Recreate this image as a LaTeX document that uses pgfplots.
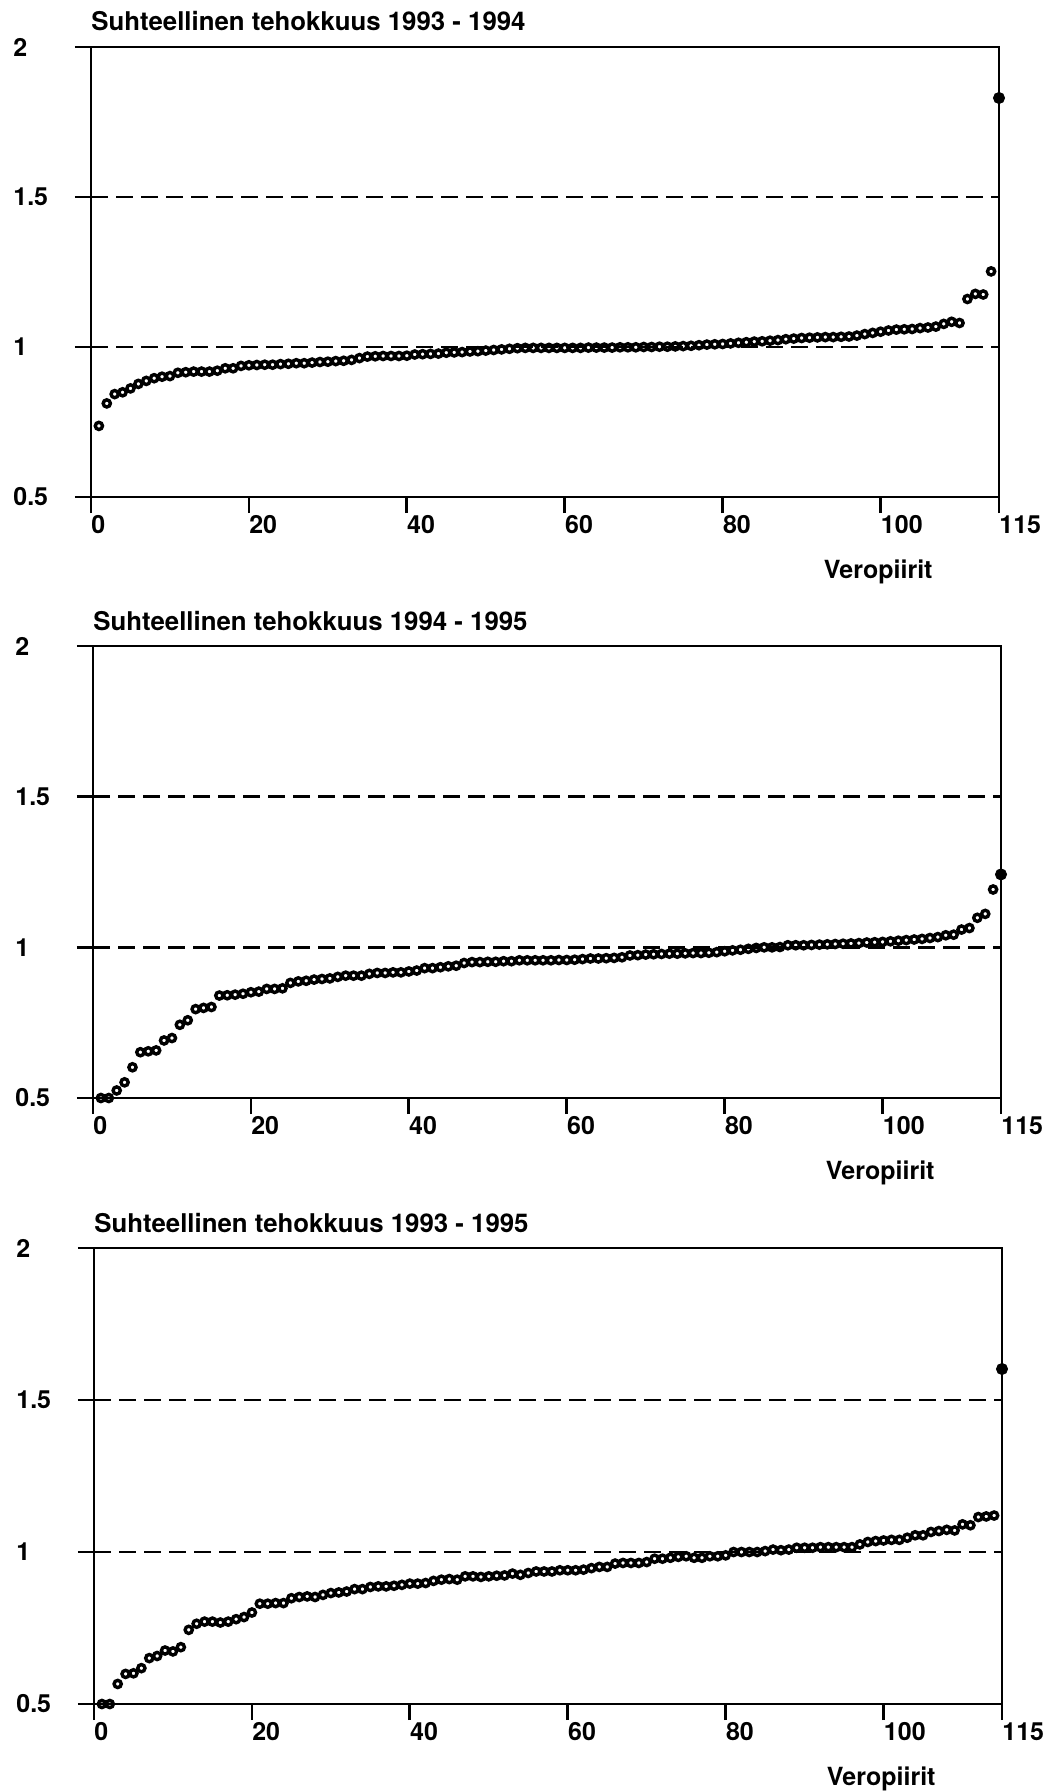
\documentclass[border=0pt]{standalone}
\usepackage{fontspec}
\setmainfont{TeX Gyre Heros}
\usepackage{pgfplots}
\usepackage{pgfplotstable}
\pgfplotsset{compat=1.18}

% Suhteellinen tehokkuus 1993-1994
\pgfplotstableread{
x y
1 0.737
2 0.812
3 0.843
4 0.849
5 0.862
6 0.877
7 0.887
8 0.896
9 0.901
10 0.903
11 0.914
12 0.916
13 0.918
14 0.918
15 0.918
16 0.921
17 0.929
18 0.929
19 0.937
20 0.939
21 0.940
22 0.941
23 0.941
24 0.943
25 0.944
26 0.946
27 0.946
28 0.948
29 0.950
30 0.951
31 0.953
32 0.954
33 0.957
34 0.963
35 0.968
36 0.969
37 0.970
38 0.970
39 0.970
40 0.971
41 0.975
42 0.976
43 0.977
44 0.978
45 0.981
46 0.982
47 0.983
48 0.985
49 0.986
50 0.988
51 0.990
52 0.992
53 0.994
54 0.996
55 0.997
56 0.997
57 0.997
58 0.997
59 0.997
60 0.997
61 0.997
62 0.997
63 0.998
64 0.998
65 0.998
66 0.998
67 0.999
68 0.999
69 0.999
70 1.000
71 1.000
72 1.001
73 1.001
74 1.002
75 1.003
76 1.004
77 1.006
78 1.008
79 1.009
80 1.010
81 1.012
82 1.014
83 1.016
84 1.018
85 1.019
86 1.021
87 1.023
88 1.026
89 1.028
90 1.030
91 1.031
92 1.032
93 1.033
94 1.033
95 1.034
96 1.035
97 1.038
98 1.043
99 1.047
100 1.051
101 1.055
102 1.058
103 1.059
104 1.060
105 1.063
106 1.065
107 1.068
108 1.077
109 1.084
110 1.080
111 1.160
112 1.177
113 1.175
114 1.252
115 1.830
}\tehoA

% Suhteellinen tehokkuus 1994-1995
\pgfplotstableread{
x y
1 0.500
2 0.500
3 0.525
4 0.552
5 0.602
6 0.652
7 0.655
8 0.658
9 0.691
10 0.699
11 0.743
12 0.758
13 0.795
14 0.799
15 0.802
16 0.840
17 0.841
18 0.843
19 0.846
20 0.851
21 0.853
22 0.862
23 0.862
24 0.864
25 0.882
26 0.887
27 0.889
28 0.893
29 0.895
30 0.897
31 0.902
32 0.906
33 0.906
34 0.906
35 0.912
36 0.915
37 0.915
38 0.917
39 0.917
40 0.920
41 0.923
42 0.931
43 0.931
44 0.934
45 0.937
46 0.939
47 0.948
48 0.951
49 0.951
50 0.952
51 0.952
52 0.954
53 0.954
54 0.957
55 0.957
56 0.957
57 0.957
58 0.957
59 0.958
60 0.958
61 0.959
62 0.961
63 0.963
64 0.963
65 0.964
66 0.965
67 0.967
68 0.973
69 0.974
70 0.976
71 0.977
72 0.978
73 0.979
74 0.979
75 0.980
76 0.981
77 0.981
78 0.982
79 0.984
80 0.987
81 0.990
82 0.992
83 0.995
84 0.998
85 1.000
86 1.000
87 1.001
88 1.007
89 1.007
90 1.007
91 1.008
92 1.009
93 1.010
94 1.011
95 1.012
96 1.013
97 1.014
98 1.016
99 1.017
100 1.018
101 1.020
102 1.022
103 1.024
104 1.026
105 1.028
106 1.031
107 1.034
108 1.040
109 1.042
110 1.059
111 1.064
112 1.098
113 1.111
114 1.192
115 1.242
}\tehoB

% Suhteellinen tehokkuus 1993-1995
\pgfplotstableread{
x y
1 0.500
2 0.500
3 0.566
4 0.599
5 0.601
6 0.618
7 0.651
8 0.658
9 0.676
10 0.673
11 0.687
12 0.744
13 0.764
14 0.771
15 0.771
16 0.768
17 0.771
18 0.779
19 0.786
20 0.801
21 0.830
22 0.830
23 0.832
24 0.832
25 0.848
26 0.852
27 0.854
28 0.852
29 0.859
30 0.865
31 0.867
32 0.870
33 0.878
34 0.878
35 0.885
36 0.887
37 0.887
38 0.889
39 0.892
40 0.896
41 0.896
42 0.898
43 0.905
44 0.909
45 0.911
46 0.909
47 0.920
48 0.920
49 0.918
50 0.920
51 0.922
52 0.923
53 0.929
54 0.925
55 0.931
56 0.936
57 0.936
58 0.936
59 0.940
60 0.940
61 0.940
62 0.942
63 0.947
64 0.951
65 0.951
66 0.962
67 0.964
68 0.964
69 0.964
70 0.967
71 0.978
72 0.978
73 0.981
74 0.984
75 0.986
76 0.981
77 0.981
78 0.986
79 0.986
80 0.989
81 1.000
82 1.000
83 1.000
84 1.000
85 1.003
86 1.008
87 1.006
88 1.008
89 1.014
90 1.014
91 1.014
92 1.016
93 1.016
94 1.016
95 1.016
96 1.016
97 1.025
98 1.033
99 1.036
100 1.038
101 1.040
102 1.040
103 1.047
104 1.055
105 1.055
106 1.066
107 1.069
108 1.073
109 1.071
110 1.091
111 1.088
112 1.115
113 1.117
114 1.120
115 1.602
}\tehoC

\pgfplotsset{
  tehokkuus/.style={
    scale only axis,
    width=454pt,
    anchor=south west,
    xmin=0, xmax=115, ymin=0.5, ymax=2,
    xtick={0,20,40,60,80,100,115},
    xticklabels={0,20,40,60,80,100,115},
    ytick={0.5,1,1.5,2},
    yticklabels={0.5,1,1.5,2},
    tick pos=left,
    tick align=outside,
    major tick length=8pt,
    every tick/.style={black, line width=1.4pt},
    axis line style={line width=1.4pt},
    ymajorgrids,
    grid style={black, line width=1.3pt, dash pattern=on 8.5pt off 4pt},
    clip=false,
    tick label style={font=\fontsize{12.5}{13}\selectfont\bfseries, inner sep=0pt},
    xticklabel style={anchor=north west, yshift=-1pt},
    yticklabel style={anchor=west, xshift=-31pt},
    title style={at={(0,1)}, anchor=base west, yshift=2pt, inner sep=0pt,
      font=\fontsize{12.9}{14}\selectfont\bfseries},
    xlabel={Veropiirit},
    xlabel style={at={(axis description cs:0.867,0)}, anchor=north, yshift=-31pt,
      inner sep=0pt, font=\fontsize{12.5}{13}\selectfont\bfseries},
  },
  avoin/.style={only marks, mark=o, mark size=1.8pt, line width=1.7pt, black,
    restrict x to domain=1:114},
  umpi/.style={only marks, mark=*, mark size=2.8pt, black,
    restrict x to domain=115:115},
}

\begin{document}
\begin{tikzpicture}
\useasboundingbox (0,0) rectangle (527.5pt,-896pt);

\begin{axis}[tehokkuus, height=225pt, at={(45.5pt,-248.5pt)},
  title={Suhteellinen tehokkuus 1993 - 1994}]
  \addplot[avoin] table[x=x, y=y] {\tehoA};
  \addplot[umpi] table[x=x, y=y] {\tehoA};
\end{axis}

\begin{axis}[tehokkuus, height=226pt, at={(46.5pt,-549pt)},
  title={Suhteellinen tehokkuus 1994 - 1995}]
  \addplot[avoin] table[x=x, y=y] {\tehoB};
  \addplot[umpi] table[x=x, y=y] {\tehoB};
\end{axis}

\begin{axis}[tehokkuus, height=228pt, at={(47pt,-852pt)},
  title={Suhteellinen tehokkuus 1993 - 1995}]
  \addplot[avoin] table[x=x, y=y] {\tehoC};
  \addplot[umpi] table[x=x, y=y] {\tehoC};
\end{axis}
\end{tikzpicture}
\end{document}
